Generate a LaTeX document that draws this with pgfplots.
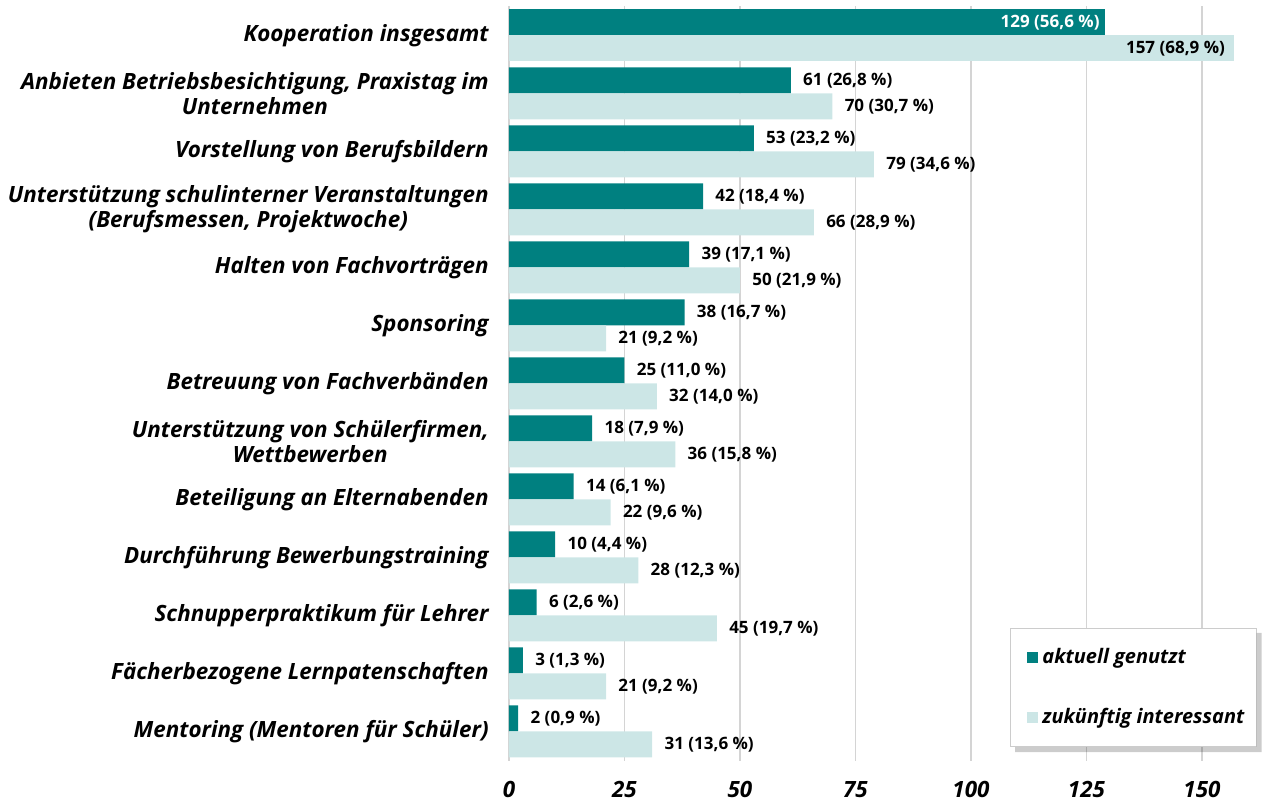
\documentclass[border=0pt]{standalone}
\usepackage{fontspec}
\setmainfont{Open Sans}
\usepackage{pgfplots}
\pgfplotsset{compat=1.18}
\definecolor{darkteal}{RGB}{0,128,128}
\definecolor{lightteal}{RGB}{204,230,230}
\definecolor{gridgray}{RGB}{212,212,212}
\begin{document}
\begin{tikzpicture}
\begin{axis}[
  scale only axis, width=376.5bp, height=377bp,
  xmin=0, xmax=163, ymin=-0.5, ymax=12.5,
  xbar, bar width=13bp,
  xtick={0,25,50,75,100,125,150},
  xticklabels={0,25,50,75,100,125,150},
  ytick={0,...,12},
  yticklabels={
    Mentoring (Mentoren für Schüler),
    Fächerbezogene Lernpatenschaften,
    Schnupperpraktikum für Lehrer,
    Durchführung Bewerbungstraining,
    Beteiligung an Elternabenden,
    {Unterstützung von Schülerfirmen,\\Wettbewerben},
    Betreuung von Fachverbänden,
    Sponsoring,
    Halten von Fachvorträgen,
    {Unterstützung schulinterner Veranstaltungen\\(Berufsmessen, Projektwoche)},
    Vorstellung von Berufsbildern,
    {Anbieten Betriebsbesichtigung, Praxistag im\\Unternehmen},
    Kooperation insgesamt},
  xmajorgrids, grid style={draw=gridgray, line width=0.6bp},
  axis lines*=left, axis line style={draw=none}, major tick length=0pt,
  yticklabel style={align=center, font=\bfseries\itshape\fontsize{11.2bp}{12.5bp}\selectfont, inner sep=0pt, xshift=-10bp},
  xticklabel style={font=\bfseries\itshape\fontsize{11.2bp}{13bp}\selectfont, inner sep=0pt, yshift=-10.25bp},
  point meta=explicit symbolic,
  every node near coord/.append style={font=\bfseries\fontsize{8.5bp}{10bp}\selectfont, inner sep=0pt, anchor=west, text=black},
  legend cell align=left,
  legend style={name=leg, at={(0.993,0.176)}, anchor=north east, draw=gray!40, fill=white,
    font=\bfseries\itshape\fontsize{10bp}{12bp}\selectfont, inner xsep=4bp, inner ysep=8bp, row sep=17bp},
]
\addplot[fill=darkteal, draw=none, bar shift=6.5bp, nodes near coords,
  every node near coord/.append style={xshift=6bp},
  legend image code/.code={\path (0bp,0bp); \fill[darkteal] (4.5bp,-2.75bp) rectangle (10bp,2.75bp);}]
  coordinates {
  (61,11) [61 (26,8 \%)]
  (53,10) [53 (23,2 \%)]
  (42,9) [42 (18,4 \%)]
  (39,8) [39 (17,1 \%)]
  (38,7) [38 (16,7 \%)]
  (25,6) [25 (11,0 \%)]
  (18,5) [18 (7,9 \%)]
  (14,4) [14 (6,1 \%)]
  (10,3) [10 (4,4 \%)]
  (6,2) [6 (2,6 \%)]
  (3,1) [3 (1,3 \%)]
  (2,0) [2 (0,9 \%)]
  };
\addlegendentry{aktuell genutzt}
\addplot[fill=lightteal, draw=none, bar shift=-6.5bp, nodes near coords,
  every node near coord/.append style={xshift=6bp},
  legend image code/.code={\path (0bp,0bp); \fill[lightteal] (4.5bp,-2.75bp) rectangle (10bp,2.75bp);}]
  coordinates {
  (70,11) [70 (30,7 \%)]
  (79,10) [79 (34,6 \%)]
  (66,9) [66 (28,9 \%)]
  (50,8) [50 (21,9 \%)]
  (21,7) [21 (9,2 \%)]
  (32,6) [32 (14,0 \%)]
  (36,5) [36 (15,8 \%)]
  (22,4) [22 (9,6 \%)]
  (28,3) [28 (12,3 \%)]
  (45,2) [45 (19,7 \%)]
  (21,1) [21 (9,2 \%)]
  (31,0) [31 (13,6 \%)]
  };
\addlegendentry{zukünftig interessant}
\addplot[fill=darkteal, draw=none, bar shift=6.5bp, forget plot, nodes near coords,
  every node near coord/.append style={anchor=east, xshift=-2.5bp, text=white}]
  coordinates {(129,12) [129 (56,6 \%)]};
\addplot[fill=lightteal, draw=none, bar shift=-6.5bp, forget plot, nodes near coords,
  every node near coord/.append style={anchor=east, xshift=-4.5bp, text=black}]
  coordinates {(157,12) [157 (68,9 \%)]};
\end{axis}
\fill[black, opacity=0.2]
  ([shift={(2.5bp,-2.5bp)}]leg.south west) -- ([shift={(2.5bp,-2.5bp)}]leg.south east)
  -- ([shift={(2.5bp,-2.5bp)}]leg.north east) -- ([shift={(0bp,-2.5bp)}]leg.north east)
  -- (leg.south east) -- ([shift={(2.5bp,0bp)}]leg.south west) -- cycle;
\pgfresetboundingbox
\path[use as bounding box] (current axis.south west) ++(-254.5bp,-20.25bp) rectangle ++(632bp,400.5bp);
\end{tikzpicture}
\end{document}
